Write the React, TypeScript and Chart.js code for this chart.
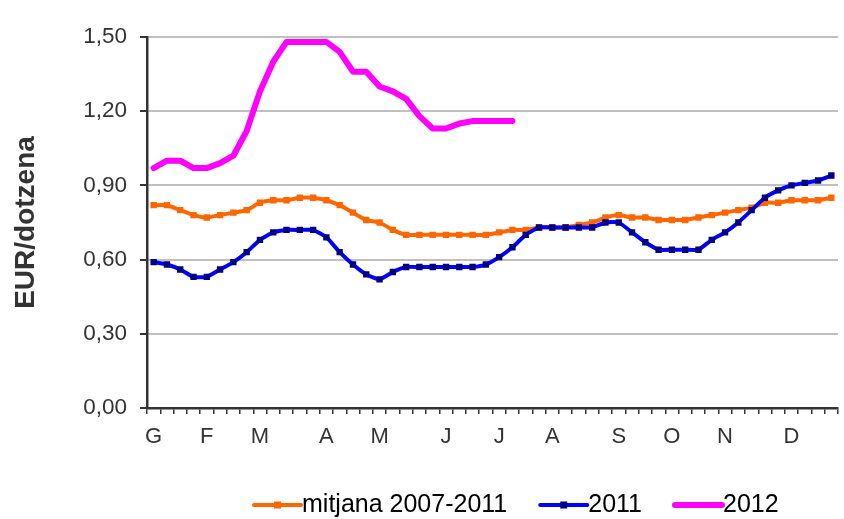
import { useEffect, useRef } from "react"
import { Chart, registerables } from "chart.js"

Chart.register(...registerables)

// 52 weekly categories, month initials at the first week of each month
const weeks = Array.from({ length: 52 }, (_, i) => `${i + 1}`)
const monthNames = ["G", "F", "M", "A", "M", "J", "J", "A", "S", "O", "N", "D"]
const monthStartWeek = [0, 4, 8, 13, 17, 22, 26, 30, 35, 39, 43, 48]

const yTicks = [0, 0.3, 0.6, 0.9, 1.2, 1.5]

// EUR / dozen
const mean2007_2011 = [
  0.82, 0.82, 0.8, 0.78, 0.77, 0.78, 0.79, 0.8, 0.83, 0.84,
  0.84, 0.85, 0.85, 0.84, 0.82, 0.79, 0.76, 0.75, 0.72, 0.7,
  0.7, 0.7, 0.7, 0.7, 0.7, 0.7, 0.71, 0.72, 0.72, 0.73,
  0.73, 0.73, 0.74, 0.75, 0.77, 0.78, 0.77, 0.77, 0.76, 0.76,
  0.76, 0.77, 0.78, 0.79, 0.8, 0.81, 0.83, 0.83, 0.84, 0.84,
  0.84, 0.85,
]
const values2011 = [
  0.59, 0.58, 0.56, 0.53, 0.53, 0.56, 0.59, 0.63, 0.68, 0.71,
  0.72, 0.72, 0.72, 0.69, 0.63, 0.58, 0.54, 0.52, 0.55, 0.57,
  0.57, 0.57, 0.57, 0.57, 0.57, 0.58, 0.61, 0.65, 0.7, 0.73,
  0.73, 0.73, 0.73, 0.73, 0.75, 0.75, 0.71, 0.67, 0.64, 0.64,
  0.64, 0.64, 0.68, 0.71, 0.75, 0.8, 0.85, 0.88, 0.9, 0.91,
  0.92, 0.94,
]
const values2012 = [
  0.97, 1.0, 1.0, 0.97, 0.97, 0.99, 1.02, 1.12, 1.28, 1.4,
  1.48, 1.48, 1.48, 1.48, 1.44, 1.36, 1.36, 1.3, 1.28, 1.25,
  1.18, 1.13, 1.13, 1.15, 1.16, 1.16, 1.16, 1.16,
]

const FONT = "'Liberation Sans', Arial, sans-serif"

const legendItems = [
  { text: "mitjana 2007-2011", color: "#FF6600", marker: "#FF6600", width: 4 },
  { text: "2011", color: "#0000FF", marker: "#000080", width: 4 },
  { text: "2012", color: "#FF00FF", marker: null, width: 6 },
]

const bottomLegend = {
  id: "bottomLegend",
  afterDraw(chart: Chart) {
    const ctx = chart.ctx
    ctx.save()
    ctx.font = `25px ${FONT}`
    ctx.textBaseline = "middle"
    ctx.textAlign = "left"
    let x = 254
    const y = 505
    legendItems.forEach((item) => {
      ctx.strokeStyle = item.color
      ctx.lineWidth = item.width
      ctx.lineCap = "round"
      ctx.beginPath()
      ctx.moveTo(x, y)
      ctx.lineTo(x + 47, y)
      ctx.stroke()
      if (item.marker) {
        ctx.fillStyle = item.marker
        ctx.fillRect(x + 20, y - 3.5, 7, 7)
      }
      ctx.fillStyle = "#000"
      ctx.fillText(item.text, x + 48, y)
      x += 48 + ctx.measureText(item.text).width + 33
    })
    ctx.restore()
  },
}

export default function App() {
  const chartRef = useRef<HTMLCanvasElement>(null)
  const chartInstance = useRef<Chart | null>(null)

  useEffect(() => {
    if (!chartRef.current) return
    const ctx = chartRef.current.getContext("2d")
    if (!ctx) return
    if (chartInstance.current) chartInstance.current.destroy()

    chartInstance.current = new Chart(ctx, {
      type: "line",
      data: {
        labels: weeks,
        datasets: [
          {
            label: "mitjana 2007-2011",
            data: mean2007_2011,
            borderColor: "#FF6600",
            backgroundColor: "#FF6600",
            borderWidth: 4,
            pointStyle: "rect",
            pointRadius: 4.5,
            pointBorderWidth: 0,
            pointBackgroundColor: "#FF6600",
            tension: 0.15,
            order: 3,
          },
          {
            label: "2011",
            data: values2011,
            borderColor: "#0000FF",
            backgroundColor: "#000080",
            borderWidth: 4,
            pointStyle: "rect",
            pointRadius: 4.5,
            pointBorderWidth: 0,
            pointBackgroundColor: "#000080",
            tension: 0.15,
            order: 2,
          },
          {
            label: "2012",
            data: values2012,
            borderColor: "#FF00FF",
            backgroundColor: "#FF00FF",
            borderWidth: 6,
            pointRadius: 0,
            borderCapStyle: "round",
            borderJoinStyle: "round",
            tension: 0,
            order: 1,
          },
        ],
      },
      options: {
        responsive: true,
        maintainAspectRatio: false,
        animation: false,
        layout: { padding: { top: 37, right: 6, left: 0, bottom: 0 } },
        scales: {
          x: {
            type: "category",
            offset: true,
            afterFit: (scale) => {
              scale.height = 111
            },
            grid: {
              offset: true,
              drawOnChartArea: false,
              drawTicks: true,
              tickLength: 6,
              color: "#333",
              lineWidth: 1.5,
            },
            border: { display: true, color: "#333", width: 2.5 },
            ticks: {
              autoSkip: false,
              maxRotation: 0,
              padding: 10,
              color: "#333",
              font: { family: FONT, size: 22 },
              callback: (_v, i) => {
                const m = monthStartWeek.indexOf(i)
                return m >= 0 ? monthNames[m] : ""
              },
            },
          },
          y: {
            min: 0,
            max: 1.5,
            afterFit: (scale) => {
              scale.width = 147
            },
            afterBuildTicks: (scale) => {
              scale.ticks = yTicks.map((v) => ({ value: v }))
            },
            grid: {
              color: "#c0c0c0",
              lineWidth: 2,
              tickColor: "#333",
              tickLength: 7,
            },
            border: { display: true, color: "#333", width: 2.5 },
            ticks: {
              padding: 13,
              color: "#333",
              font: { family: FONT, size: 22.5 },
              callback: (value) => Number(value).toFixed(2).replace(".", ","),
            },
            title: {
              display: true,
              text: "EUR/dotzena",
              color: "#333",
              font: { family: FONT, size: 28, weight: "bold" },
              padding: { top: 9, bottom: 0 },
            },
          },
        },
        plugins: {
          legend: { display: false },
          tooltip: { enabled: false },
        },
      },
      plugins: [bottomLegend],
    })

    return () => {
      if (chartInstance.current) chartInstance.current.destroy()
      chartInstance.current = null
    }
  }, [])

  return (
    <div style={{ position: "fixed", left: 0, top: 0, width: 844, height: 519, background: "#fff" }}>
      <canvas ref={chartRef}></canvas>
    </div>
  )
}
